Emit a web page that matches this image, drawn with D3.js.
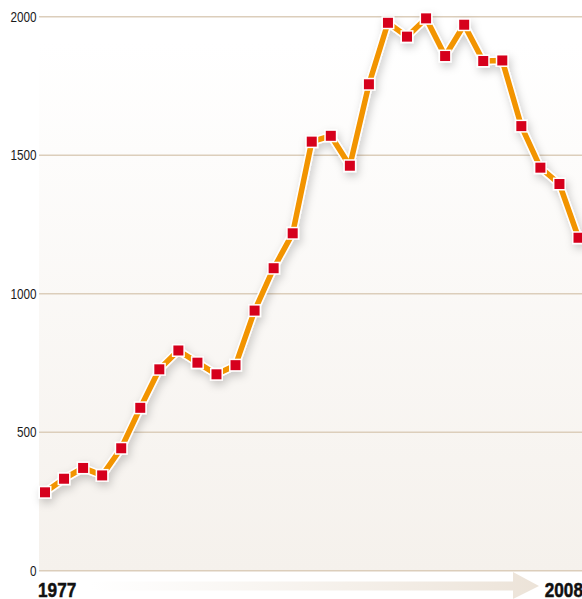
<!DOCTYPE html>
<html>
<head>
<meta charset="utf-8">
<script src="https://cdn.jsdelivr.net/npm/d3@7"></script>
<style>
  body { margin: 0; background: #fff; }
  svg { display: block; }
</style>
</head>
<body>
<svg id="chart" width="582" height="599"></svg>
<script>
// values, first year 1977, last 2008
var values = [283, 332, 371, 344, 442, 588, 727, 795, 751, 709, 742, 939, 1092, 1218,
              1549, 1570, 1462, 1756, 1978, 1928, 1994, 1858, 1971, 1840, 1842, 1605,
              1455, 1396, 1202];
var yTicks = [0, 500, 1000, 1500, 2000];
var endLabels = ["1977", "2008"];

var svg = d3.select("#chart"),
    width = +svg.attr("width"),
    plotLeft = 39, plotTop = 16.7, plotBottom = 570.7;

var font = "'Liberation Sans', Arial, sans-serif";

var x = d3.scalePoint().domain(d3.range(values.length)).range([45, 578.5]);
var y = d3.scaleLinear().domain([0, 2000]).range([plotBottom, plotTop]);

var defs = svg.append("defs");
var bg = defs.append("linearGradient").attr("id", "bg")
  .attr("x1", 0).attr("y1", 0).attr("x2", 0).attr("y2", 1);
bg.append("stop").attr("offset", "0%").attr("stop-color", "#ffffff");
bg.append("stop").attr("offset", "100%").attr("stop-color", "#f5f1ec");

var arr = defs.append("linearGradient").attr("id", "arr")
  .attr("x1", 0).attr("y1", 0).attr("x2", 1).attr("y2", 0);
arr.append("stop").attr("offset", "0%").attr("stop-color", "#efe7dd").attr("stop-opacity", 0);
arr.append("stop").attr("offset", "100%").attr("stop-color", "#ece3d8").attr("stop-opacity", 1);

var sh = defs.append("filter").attr("id", "shadow")
  .attr("x", "-20%").attr("y", "-20%").attr("width", "140%").attr("height", "140%");
sh.append("feDropShadow").attr("dx", 2).attr("dy", 4).attr("stdDeviation", 4)
  .attr("flood-color", "#000").attr("flood-opacity", 0.2);

// plot background
svg.append("rect")
  .attr("x", plotLeft).attr("y", 43)
  .attr("width", width - plotLeft).attr("height", plotBottom - 43)
  .attr("fill", "url(#bg)");

// gridlines + labels
var grid = svg.append("g");
grid.selectAll("line").data(yTicks).enter().append("line")
  .attr("x1", plotLeft).attr("x2", width)
  .attr("y1", function(d) { return y(d); })
  .attr("y2", function(d) { return y(d); })
  .attr("stroke", "#dccebb").attr("stroke-width", 1.6);

grid.selectAll("text").data(yTicks).enter().append("text")
  .attr("transform", function(d) { return "translate(36.5," + (y(d) + 5) + ") scale(0.84,1)"; })
  .attr("text-anchor", "end")
  .attr("font-family", font)
  .attr("font-size", "14px")
  .attr("fill", "#1a1a1a")
  .text(function(d) { return d; });

// timeline arrow
svg.append("path")
  .attr("d", "M90,581.5 L513,581.5 L513,572 L539,586 L513,599 L513,590.5 L90,590.5 Z")
  .attr("fill", "url(#arr)");

svg.selectAll(".yr").data(endLabels).enter().append("text")
  .attr("class", "yr")
  .attr("transform", function(d, i) {
    return "translate(" + (i === 0 ? 38 : width + 1) + ",596.5) scale(0.82,1)";
  })
  .attr("text-anchor", function(d, i) { return i === 0 ? "start" : "end"; })
  .attr("font-family", font)
  .attr("font-weight", "bold")
  .attr("font-size", "21px")
  .attr("fill", "#111")
  .attr("stroke", "#111")
  .attr("stroke-width", 0.5)
  .text(function(d) { return d; });

// series
var line = d3.line()
  .x(function(d, i) { return x(i); })
  .y(function(d) { return y(d); });

var g = svg.append("g").attr("filter", "url(#shadow)");

g.append("path").datum(values)
  .attr("d", line)
  .attr("fill", "none")
  .attr("stroke", "#fff")
  .attr("stroke-width", 8.5)
  .attr("stroke-linejoin", "round");

g.append("path").datum(values)
  .attr("d", line)
  .attr("fill", "none")
  .attr("stroke", "#f29400")
  .attr("stroke-width", 5.5)
  .attr("stroke-linejoin", "round");

var s = 11.5;
g.selectAll("rect").data(values).enter().append("rect")
  .attr("x", function(d, i) { return x(i) - s / 2; })
  .attr("y", function(d) { return y(d) - s / 2; })
  .attr("width", s).attr("height", s)
  .attr("fill", "#d6001c")
  .attr("stroke", "#fff")
  .attr("stroke-width", 1.5);
</script>
</body>
</html>
